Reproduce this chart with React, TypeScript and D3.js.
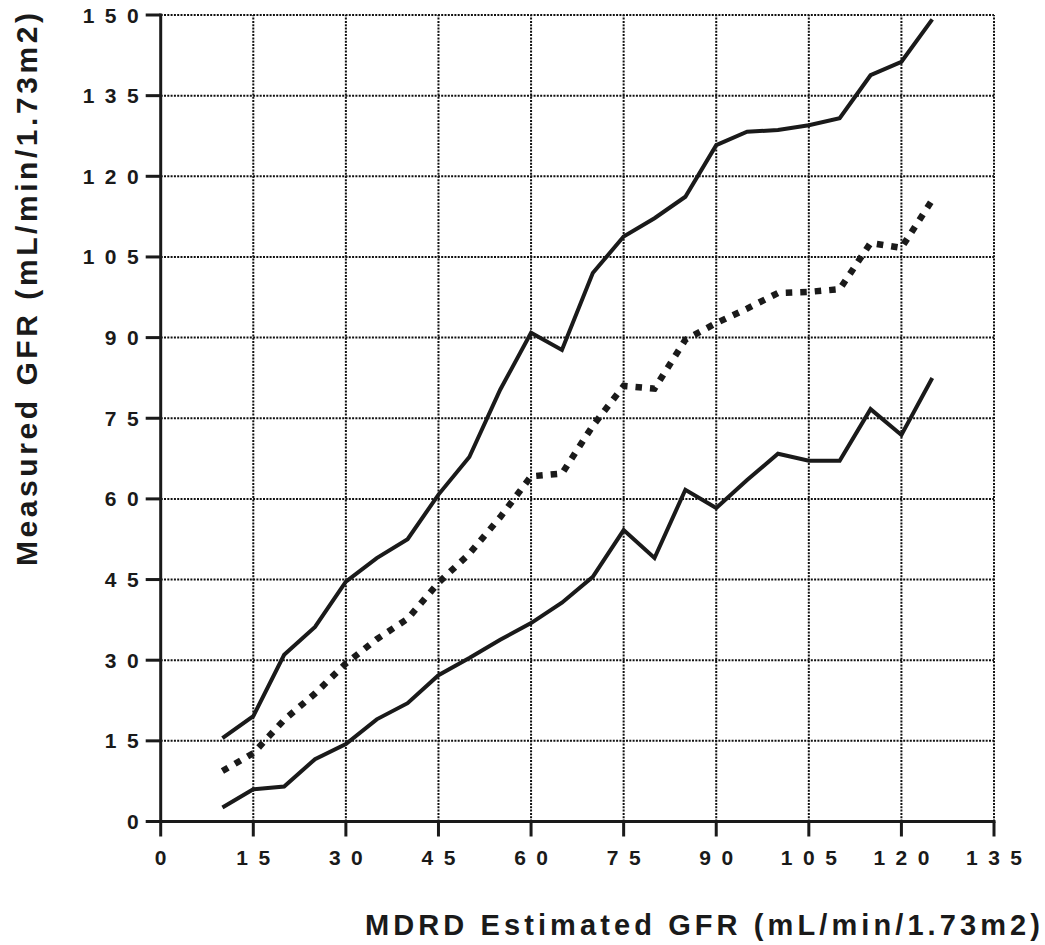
import { useMemo } from "react";
import * as d3 from "d3";

const WIDTH = 1045;
const HEIGHT = 945;
const MARGIN = { top: 15, right: 51, bottom: 123.5, left: 160.7 };

// MDRD estimated GFR bins (x) and measured GFR percentiles (y)
const estimatedGfr = [10, 15, 20, 25, 30, 35, 40, 45, 50, 55, 60, 65, 70, 75, 80, 85, 90, 95, 100, 105, 110, 115, 120, 125];
const upperLine = [15.5, 19.6, 31.0, 36.2, 44.6, 49.0, 52.5, 60.8, 67.8, 80.3, 90.9, 87.7, 102.0, 108.8, 112.2, 116.2, 125.8, 128.3, 128.6, 129.5, 130.8, 138.8, 141.3, 149.2];
const medianLine = [9.4, 12.7, 18.9, 23.8, 29.4, 33.9, 37.7, 44.4, 49.8, 56.6, 64.2, 64.7, 73.6, 81.0, 80.5, 89.6, 92.7, 95.4, 98.3, 98.5, 99.0, 107.6, 106.7, 115.6];
const lowerLine = [2.6, 6.0, 6.5, 11.6, 14.4, 19.0, 22.0, 27.2, 30.4, 33.8, 36.9, 40.7, 45.5, 54.2, 49.0, 61.7, 58.3, 63.5, 68.4, 67.1, 67.1, 76.7, 71.9, 82.5];

const xTicks = [0, 15, 30, 45, 60, 75, 90, 105, 120, 135];
const yTicks = [0, 15, 30, 45, 60, 75, 90, 105, 120, 135, 150];

const xTitle = "MDRD Estimated GFR (mL/min/1.73m2)";
const yTitle = "Measured GFR (mL/min/1.73m2)";

const INK = "#1a1a1a";
const FONT = "'Liberation Sans', Arial, Helvetica, sans-serif";
const TICK_SPACING = 10.5;

export default function App() {
  const x = useMemo(
    () => d3.scaleLinear().domain([0, 135]).range([MARGIN.left, WIDTH - MARGIN.right]),
    [],
  );
  const y = useMemo(
    () => d3.scaleLinear().domain([0, 150]).range([HEIGHT - MARGIN.bottom, MARGIN.top]),
    [],
  );

  const makePath = (values: number[]) =>
    d3
      .line<number>()
      .x((_, i) => x(estimatedGfr[i]))
      .y((d) => y(d))(values) || "";

  const x0 = x(0);
  const x1 = x(135);
  const y0 = y(0);
  const y1 = y(150);

  return (
    <div style={{ position: "absolute", left: 0, top: 0 }}>
      <svg width={WIDTH} height={HEIGHT} viewBox={`0 0 ${WIDTH} ${HEIGHT}`} style={{ display: "block", background: "#fff" }}>
        {/* dotted grid */}
        {yTicks.filter((t) => t > 0).map((t) => (
          <line key={`gy-${t}`} x1={x0} x2={x1} y1={y(t)} y2={y(t)} stroke="#111" strokeWidth={2} strokeDasharray="2 1.3" />
        ))}
        {xTicks.filter((t) => t > 0).map((t) => (
          <line key={`gx-${t}`} x1={x(t)} x2={x(t)} y1={y0} y2={y1} stroke="#111" strokeWidth={2} strokeDasharray="2 1.3" />
        ))}

        {/* axes */}
        <line x1={x0} x2={x1 + 1.5} y1={y0} y2={y0} stroke={INK} strokeWidth={3} />
        <line x1={x0} x2={x0} y1={y0 + 1.5} y2={y1 - 1.5} stroke={INK} strokeWidth={3} />

        {yTicks.map((t) => (
          <g key={`yt-${t}`}>
            <line x1={x0 - 15} x2={x0} y1={y(t)} y2={y(t)} stroke={INK} strokeWidth={3} />
            <text
              x={x0 - 22 + TICK_SPACING}
              y={y(t) + 7.5}
              textAnchor="end"
              fontFamily={FONT}
              fontWeight="bold"
              fontSize={21}
              letterSpacing={TICK_SPACING}
              fill={INK}
            >
              {t}
            </text>
          </g>
        ))}

        {xTicks.map((t) => (
          <g key={`xt-${t}`}>
            <line x1={x(t)} x2={x(t)} y1={y0} y2={y0 + 15} stroke={INK} strokeWidth={3} />
            <text
              x={x(t) + TICK_SPACING / 2}
              y={y0 + 43.5}
              textAnchor="middle"
              fontFamily={FONT}
              fontWeight="bold"
              fontSize={21}
              letterSpacing={TICK_SPACING}
              fill={INK}
            >
              {t}
            </text>
          </g>
        ))}

        {/* series */}
        <path d={makePath(upperLine)} fill="none" stroke={INK} strokeWidth={4} strokeLinejoin="miter" />
        <path d={makePath(lowerLine)} fill="none" stroke={INK} strokeWidth={4} strokeLinejoin="miter" />
        <path d={makePath(medianLine)} fill="none" stroke={INK} strokeWidth={6.5} strokeDasharray="6.5 8" />

        {/* axis titles */}
        <text
          x={365}
          y={935}
          fontFamily={FONT}
          fontWeight="bold"
          fontSize={29}
          textLength={675}
          lengthAdjust="spacing"
          fill={INK}
        >
          {xTitle}
        </text>
        <text
          transform="translate(37 566) rotate(-90)"
          x={0}
          y={0}
          fontFamily={FONT}
          fontWeight="bold"
          fontSize={30}
          textLength={553}
          lengthAdjust="spacing"
          fill={INK}
        >
          {yTitle}
        </text>
      </svg>
    </div>
  );
}
